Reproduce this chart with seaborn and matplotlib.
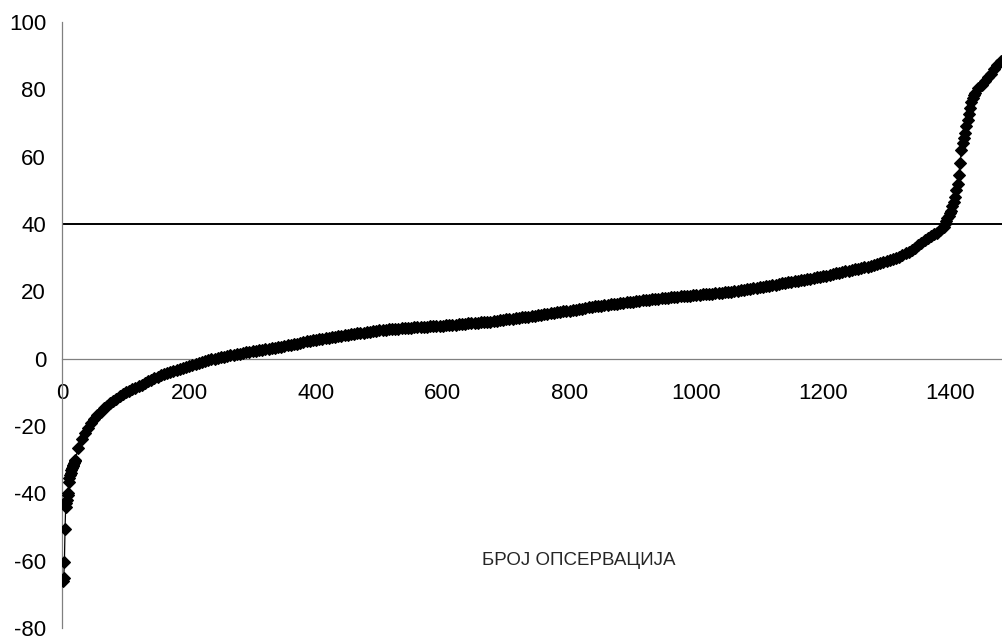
import numpy as np
import pandas as pd
import matplotlib
matplotlib.use("Agg")
import matplotlib.pyplot as plt
import seaborn as sns

# Sorted observations: lowest tail, main body (every 5th), upper tail
tail_low_obs = list(range(1, 21))
tail_low_val = [-66.0, -65.0, -60.5, -50.5, -44.0, -43.0, -42.0, -40.5, -40.0, -36.5,
                -35.5, -34.5, -34.0, -33.0, -32.5, -32.0, -31.5, -31.0, -30.5, -30.0]

body_obs = list(range(25, 1395, 5))
body_val = [
    -26.5, -24.0, -22.0, -20.5, -19.0, -17.8, -16.8, -15.8, -14.8, -14.0,
    -13.3, -12.6, -11.9, -11.2, -10.6, -10.0, -9.5, -9.0, -8.6, -8.2,
    -7.7, -7.2, -6.7, -6.3, -5.8, -5.4, -5.0, -4.7, -4.3, -4.0,
    -3.7, -3.4, -3.1, -2.8, -2.5, -2.2, -1.9, -1.6, -1.3, -1.0,
    -0.7, -0.4, -0.2, 0.0, 0.2, 0.4, 0.6, 0.8, 1.0, 1.2,
    1.4, 1.5, 1.7, 1.9, 2.0, 2.2, 2.4, 2.5, 2.7, 2.8,
    3.0, 3.2, 3.3, 3.5, 3.6, 3.8, 4.0, 4.1, 4.3, 4.5,
    4.7, 4.9, 5.1, 5.2, 5.4, 5.6, 5.7, 5.9, 6.0, 6.2,
    6.3, 6.5, 6.6, 6.8, 6.9, 7.1, 7.2, 7.4, 7.5, 7.6,
    7.7, 7.9, 8.0, 8.1, 8.3, 8.4, 8.5, 8.6, 8.7, 8.7,
    8.8, 8.9, 9.0, 9.0, 9.1, 9.2, 9.3, 9.3, 9.4, 9.5,
    9.5, 9.6, 9.6, 9.7, 9.8, 9.8, 9.9, 10.0, 10.1, 10.1,
    10.2, 10.3, 10.4, 10.5, 10.5, 10.6, 10.7, 10.8, 10.9, 10.9,
    11.0, 11.1, 11.3, 11.4, 11.5, 11.7, 11.8, 11.9, 12.0, 12.2,
    12.3, 12.4, 12.5, 12.7, 12.8, 12.9, 13.0, 13.2, 13.3, 13.5,
    13.6, 13.8, 13.9, 14.1, 14.2, 14.3, 14.5, 14.6, 14.8, 14.9,
    15.1, 15.2, 15.4, 15.5, 15.6, 15.7, 15.8, 16.0, 16.1, 16.2,
    16.3, 16.4, 16.6, 16.7, 16.8, 16.9, 17.1, 17.2, 17.3, 17.4,
    17.5, 17.6, 17.7, 17.8, 17.9, 18.0, 18.1, 18.2, 18.3, 18.4,
    18.5, 18.5, 18.6, 18.7, 18.8, 18.9, 19.0, 19.1, 19.1, 19.2,
    19.3, 19.4, 19.5, 19.6, 19.7, 19.8, 19.9, 20.1, 20.2, 20.3,
    20.5, 20.6, 20.8, 20.9, 21.1, 21.3, 21.4, 21.6, 21.7, 21.9,
    22.0, 22.2, 22.4, 22.5, 22.7, 22.8, 23.0, 23.1, 23.3, 23.5,
    23.6, 23.8, 24.0, 24.2, 24.3, 24.5, 24.7, 24.9, 25.1, 25.3,
    25.5, 25.7, 25.9, 26.1, 26.3, 26.5, 26.7, 26.9, 27.1, 27.3,
    27.6, 27.9, 28.1, 28.4, 28.7, 29.0, 29.3, 29.6, 29.9, 30.3,
    30.8, 31.3, 31.8, 32.4, 33.0, 33.7, 34.5, 35.3, 35.9, 36.4,
    36.9, 37.4, 38.2, 39.2,
]

steep_obs = list(range(1392, 1441, 2))
steep_val = [40.0, 40.8, 41.7, 42.5, 43.3, 44.0, 45.2, 46.6, 48.0, 50.0,
             52.0, 54.5, 58.0, 62.0, 64.0, 65.5, 67.0, 69.0, 71.0, 72.8,
             74.5, 76.3, 77.5, 78.3, 79.0]

tail_high_obs = list(range(1445, 1481, 5))
tail_high_val = [80.3, 81.4, 82.5, 83.6, 84.7, 86.0, 87.2, 88.5]

threshold = 40
x_ticks = [0, 200, 400, 600, 800, 1000, 1200, 1400]
y_ticks = [-80, -60, -40, -20, 0, 20, 40, 60, 80, 100]
x_label = "БРОЈ ОПСЕРВАЦИЈА"

df = pd.DataFrame({
    "obs": tail_low_obs + body_obs + steep_obs + tail_high_obs,
    "value": tail_low_val + body_val + steep_val + tail_high_val,
})

sns.set_style("white")
plt.rcParams["font.family"] = ["Liberation Sans", "DejaVu Sans"]
plt.rcParams["axes.unicode_minus"] = False

fig = plt.figure(figsize=(10.03, 6.39), dpi=100)
ax = fig.add_axes([62.5 / 1003, 11 / 639, (1003 - 62.5) / 1003, 606 / 639])

sns.lineplot(data=df, x="obs", y="value", ax=ax, sort=False, estimator=None,
             color="black", linewidth=0.9, marker="D", markersize=6.0,
             markeredgecolor="black", markerfacecolor="black", markeredgewidth=0.8,
             zorder=3)

ax.axhline(threshold, color="black", linewidth=1.4, zorder=2)

ax.set_xlim(0, 1483.7)
ax.set_ylim(-80, 100)
ax.set_xticks(x_ticks)
ax.set_yticks(y_ticks)

gray = "#808080"
for side in ("top", "right"):
    ax.spines[side].set_visible(False)
ax.spines["left"].set_position(("data", 0))
ax.spines["bottom"].set_position(("data", 0))
ax.spines["left"].set_color(gray)
ax.spines["bottom"].set_color(gray)
ax.spines["left"].set_linewidth(0.9)
ax.spines["bottom"].set_linewidth(0.9)

ax.tick_params(axis="both", which="major", direction="out", length=4.8,
               width=0.9, color=gray, labelsize=16, labelcolor="black")
ax.tick_params(axis="x", pad=13)
ax.tick_params(axis="y", pad=7)

ax.set_xlabel(x_label, fontsize=13.5, va="center", ha="center")
ax.xaxis.set_label_coords(815 / 1483.7, (-60 + 80) / 180)
ax.set_ylabel("")

fig.savefig("out.png", dpi=100)
